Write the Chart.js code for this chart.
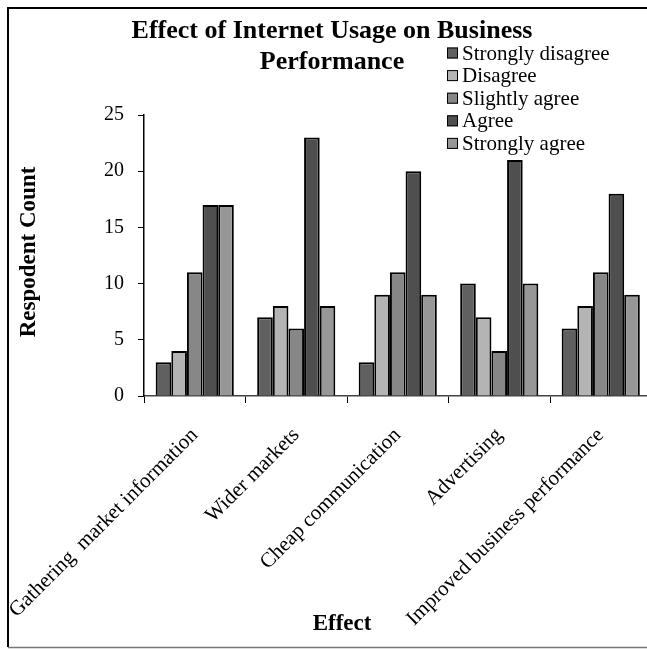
<!DOCTYPE html>
<html>
<head>
<meta charset="utf-8">
<script src="https://cdn.jsdelivr.net/npm/chart.js@4.4.1/dist/chart.umd.min.js"></script>
<style>
  html, body { margin: 0; padding: 0; background: #ffffff; overflow: hidden; }
  #wrap { position: absolute; left: 0; top: 0; width: 660px; height: 649px; }
</style>
</head>
<body>
<div id="wrap"><canvas id="chart" width="660" height="649"></canvas></div>
<script>
// Categories and responses per agreement level
const effects = ['Gathering  market information', 'Wider markets', 'Cheap communication', 'Advertising', 'Improved business performance'];
const seriesNames = ['Strongly disagree', 'Disagree', 'Slightly agree', 'Agree', 'Strongly agree'];
const stronglyDisagree = [3, 7, 3, 10, 6];
const disagree = [4, 8, 9, 7, 8];
const slightlyAgree = [11, 6, 11, 4, 11];
const agree = [17, 23, 20, 21, 18];
const stronglyAgree = [17, 8, 9, 10, 9];
const yMin = 0, yMax = 25, yStep = 5;

const chartTitle = ['Effect of Internet Usage on Business', 'Performance'];
const yTitle = 'Respodent Count';
const xTitle = 'Effect';

const fills = ['#606060', '#b4b4b4', '#878787', '#4f4f4f', '#979797'];
const values = [stronglyDisagree, disagree, slightlyAgree, agree, stronglyAgree];
const SERIF = '"Liberation Serif", "Times New Roman", serif';

const datasets = seriesNames.map((name, i) => ({
  label: name,
  data: values[i],
  backgroundColor: fills[i],
  borderColor: '#000000',
  borderWidth: 2,
  categoryPercentage: 0.77,
  barPercentage: 1.0
}));

// Frame, titles and legend block drawn on top of the canvas
const decorations = {
  id: 'decorations',
  afterDraw(chart) {
    const ctx = chart.ctx;
    ctx.save();
    // outer frame
    ctx.strokeStyle = '#000000';
    ctx.lineWidth = 2;
    ctx.beginPath();
    ctx.moveTo(720, 8);
    ctx.lineTo(8, 8);
    ctx.lineTo(8, 647);
    ctx.stroke();
    ctx.strokeStyle = '#777777';
    ctx.lineWidth = 1.5;
    ctx.beginPath();
    ctx.moveTo(8, 647.5);
    ctx.lineTo(720, 647.5);
    ctx.stroke();

    // chart title
    ctx.fillStyle = '#000000';
    ctx.font = 'bold 26px ' + SERIF;
    ctx.textAlign = 'center';
    ctx.textBaseline = 'alphabetic';
    ctx.fillText(chartTitle[0], 332, 38);
    ctx.fillText(chartTitle[1], 332, 69);

    // axis titles
    ctx.font = 'bold 23px ' + SERIF;
    ctx.fillText(xTitle, 342, 630);
    ctx.save();
    ctx.translate(35, 252);
    ctx.rotate(-Math.PI / 2);
    ctx.fillText(yTitle, 0, 0);
    ctx.restore();

    // legend
    ctx.font = '21px ' + SERIF;
    ctx.textAlign = 'left';
    ctx.textBaseline = 'middle';
    chart.data.datasets.forEach((ds, i) => {
      const cy = 53 + i * 22.6;
      ctx.fillStyle = ds.backgroundColor;
      ctx.fillRect(447, cy - 5.5, 11, 11);
      ctx.strokeStyle = '#000000';
      ctx.lineWidth = 1;
      ctx.strokeRect(447.5, cy - 5, 10, 10);
      ctx.fillStyle = '#000000';
      ctx.fillText(ds.label, 462, cy + 1);
    });
    ctx.restore();
  }
};

new Chart(document.getElementById('chart'), {
  type: 'bar',
  data: { labels: effects, datasets },
  options: {
    responsive: false,
    animation: false,
    devicePixelRatio: 1,
    layout: { padding: { left: 0, right: 8.5, top: 115, bottom: 0 } },
    plugins: {
      legend: { display: false },
      title: { display: false },
      tooltip: { enabled: false }
    },
    scales: {
      x: {
        grid: { display: true, drawOnChartArea: false, drawTicks: true, tickLength: 7, color: '#000000', offset: true },
        border: { display: true, color: '#444444', width: 1.5 },
        ticks: {
          autoSkip: false,
          minRotation: 45,
          maxRotation: 45,
          padding: 20,
          color: '#000000',
          font: { family: SERIF, size: 21 }
        },
        afterFit(scale) {
          scale.height = 649 - 396;
          scale.paddingLeft = 0;
          scale.paddingRight = 0;
        }
      },
      y: {
        min: yMin,
        max: yMax,
        grid: { display: true, drawOnChartArea: false, drawTicks: true, tickLength: 6, color: '#000000' },
        border: { display: true, color: '#000000', width: 1.5 },
        ticks: {
          stepSize: yStep,
          padding: 14,
          color: '#000000',
          font: { family: SERIF, size: 20 }
        },
        afterFit(scale) {
          scale.width = 144;
          scale.paddingTop = 0;
          scale.paddingBottom = 0;
        }
      }
    }
  },
  plugins: [decorations]
});
</script>
</body>
</html>
